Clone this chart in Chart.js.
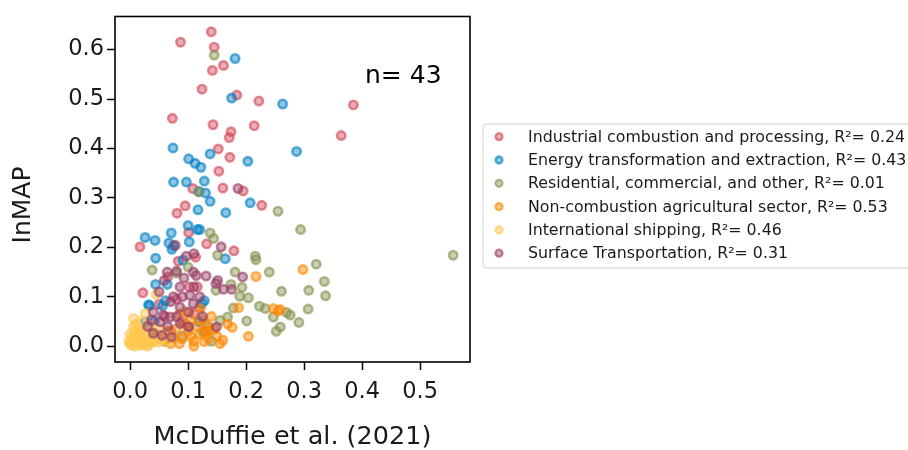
<!DOCTYPE html>
<html lang="en">
<head>
  <meta charset="UTF-8">
  <title>InMAP vs McDuffie et al. (2021)</title>
  <script src="https://cdn.jsdelivr.net/npm/chart.js"></script>
  <style>
    html, body { margin: 0; padding: 0; background: #fff; }
    #chart-container { width: 908px; height: 450px; }
  </style>
</head>
<body>
<div id="chart-container">
  <canvas id="grafico" width="908" height="450"></canvas>
</div>

<script>
  // series: [McDuffie, InMAP]
  const industrial = [
    [0.140,0.636],[0.087,0.615],[0.145,0.605],[0.161,0.568],[0.142,0.558],[0.124,0.520],
    [0.184,0.508],[0.222,0.496],[0.385,0.488],[0.073,0.461],[0.143,0.448],[0.214,0.446],
    [0.174,0.434],[0.171,0.422],[0.364,0.426],[0.152,0.399],[0.172,0.382],[0.153,0.354],
    [0.108,0.319],[0.160,0.320],[0.195,0.314],[0.095,0.284],[0.081,0.269],[0.227,0.285],
    [0.101,0.230],[0.017,0.201],[0.132,0.207],[0.179,0.193],[0.113,0.180],[0.083,0.172],
    [0.022,0.108],[0.102,0.120],[0.116,0.120],[0.060,0.060],[0.090,0.050],[0.120,0.080],
    [0.080,0.095],[0.070,0.030],[0.100,0.040],[0.130,0.030],[0.050,0.085],[0.110,0.065],
    [0.065,0.140]
  ];
  const energy = [
    [0.181,0.582],[0.175,0.502],[0.263,0.490],[0.074,0.401],[0.138,0.389],[0.101,0.379],
    [0.112,0.370],[0.122,0.362],[0.203,0.374],[0.287,0.394],[0.075,0.332],[0.097,0.332],
    [0.128,0.334],[0.119,0.313],[0.130,0.310],[0.138,0.293],[0.117,0.276],[0.207,0.290],
    [0.165,0.270],[0.100,0.244],[0.116,0.236],[0.120,0.236],[0.026,0.220],[0.043,0.214],
    [0.071,0.229],[0.067,0.209],[0.072,0.196],[0.075,0.203],[0.102,0.211],[0.044,0.178],
    [0.091,0.174],[0.164,0.177],[0.044,0.125],[0.064,0.125],[0.032,0.084],[0.061,0.092],
    [0.026,0.049],[0.042,0.051],[0.119,0.049],[0.056,0.082],[0.124,0.087],[0.128,0.092],
    [0.033,0.082]
  ];
  const residential = [
    [0.145,0.589],[0.294,0.236],[0.557,0.184],[0.321,0.166],[0.335,0.131],[0.308,0.113],
    [0.337,0.102],[0.261,0.111],[0.307,0.075],[0.276,0.063],[0.291,0.048],[0.259,0.039],
    [0.255,0.273],[0.138,0.229],[0.144,0.218],[0.151,0.184],[0.216,0.182],[0.217,0.175],
    [0.038,0.154],[0.240,0.150],[0.148,0.113],[0.174,0.125],[0.193,0.119],[0.189,0.101],
    [0.204,0.098],[0.223,0.081],[0.233,0.076],[0.178,0.077],[0.168,0.059],[0.155,0.052],
    [0.201,0.051],[0.247,0.059],[0.252,0.030],[0.270,0.068],[0.126,0.029],[0.118,0.312],
    [0.080,0.148],[0.135,0.040],[0.181,0.150],[0.100,0.160],[0.060,0.010],[0.090,0.020],
    [0.140,0.010]
  ];
  const agriculture = [
    [0.298,0.155],[0.259,0.074],[0.217,0.141],[0.187,0.078],[0.247,0.076],[0.255,0.071],
    [0.121,0.076],[0.124,0.053],[0.137,0.032],[0.132,0.029],[0.176,0.038],[0.204,0.020],
    [0.128,0.009],[0.168,0.045],[0.085,0.065],[0.095,0.070],[0.105,0.055],[0.115,0.040],
    [0.120,0.025],[0.105,0.020],[0.090,0.015],[0.075,0.018],[0.060,0.012],[0.050,0.015],
    [0.040,0.010],[0.030,0.008],[0.065,0.030],[0.080,0.035],[0.100,0.030],[0.110,0.010],
    [0.130,0.045],[0.140,0.060],[0.150,0.020],[0.160,0.012],[0.070,0.005],[0.020,0.005],
    [0.095,0.045],[0.135,0.015],[0.145,0.035],[0.045,0.025],[0.155,0.005],[0.085,0.005],
    [0.110,0.000]
  ];
  const shipping = [
    [0.000,0.005],[0.003,0.012],[0.005,0.020],[0.008,0.030],[0.010,0.008],[0.012,0.015],
    [0.015,0.025],[0.018,0.004],[0.020,0.012],[0.022,0.035],[0.025,0.018],[0.028,0.008],
    [0.030,0.025],[0.032,0.014],[0.035,0.005],[0.038,0.020],[0.040,0.030],[0.042,0.010],
    [0.045,0.018],[0.050,0.008],[0.055,0.015],[0.002,0.002],[0.006,0.040],[0.010,0.045],
    [0.014,0.038],[-0.002,0.010],[0.000,0.025],[0.016,0.002],[0.024,0.002],[0.006,0.056],
    [0.026,0.066],[0.045,0.105],[0.035,0.042],[0.060,0.025],[0.065,0.010],[0.020,0.050],
    [0.050,0.035],[0.008,0.000],[0.030,0.000],[0.070,0.020],[0.004,0.016],[0.012,0.028],
    [0.018,0.020]
  ];
  const transport = [
    [0.186,0.319],[0.078,0.204],[0.097,0.182],[0.064,0.150],[0.080,0.152],[0.109,0.150],
    [0.114,0.143],[0.093,0.138],[0.131,0.142],[0.151,0.133],[0.194,0.140],[0.059,0.133],
    [0.086,0.120],[0.161,0.115],[0.175,0.115],[0.050,0.110],[0.075,0.100],[0.103,0.103],
    [0.086,0.079],[0.109,0.086],[0.101,0.069],[0.040,0.069],[0.057,0.063],[0.069,0.059],
    [0.037,0.053],[0.052,0.049],[0.086,0.046],[0.101,0.039],[0.040,0.026],[0.055,0.022],
    [0.071,0.019],[0.149,0.039],[0.148,0.127],[0.157,0.201],[0.110,0.187],[0.070,0.090],
    [0.120,0.100],[0.090,0.100],[0.065,0.040],[0.125,0.060],[0.110,0.120],[0.080,0.060],
    [0.030,0.040]
  ];

  const sectores = [
    'Industrial combustion and processing, R\u00b2= 0.24',
    'Energy transformation and extraction, R\u00b2= 0.43',
    'Residential, commercial, and other, R\u00b2= 0.01',
    'Non-combustion agricultural sector, R\u00b2= 0.53',
    'International shipping, R\u00b2= 0.46',
    'Surface Transportation, R\u00b2= 0.31'
  ];
  const series = [industrial, energy, residential, agriculture, shipping, transport];
  const colores = ['212,72,88', '0,128,196', '134,146,80', '255,136,0', '255,200,80', '150,62,102'];

  const xTicks = [0.0, 0.1, 0.2, 0.3, 0.4, 0.5];
  const yTicks = [0.0, 0.1, 0.2, 0.3, 0.4, 0.5, 0.6];
  const xTitulo = 'McDuffie et al. (2021)';
  const yTitulo = 'InMAP';
  const nLabel = 'n= 43';

  const FONT = '"DejaVu Sans", sans-serif';

  const datasets = series.map((pts, i) => ({
    label: sectores[i],
    data: pts.map(p => ({ x: p[0], y: p[1] })),
    backgroundColor: `rgba(${colores[i]},0.45)`,
    borderColor: `rgba(${colores[i]},0.62)`,
    borderWidth: 2.6,
    pointRadius: 4.2,
    order: series.length - i
  }));

  const extras = {
    id: 'extras',
    afterDraw(chart) {
      const ctx = chart.ctx;
      const a = chart.chartArea;
      ctx.save();
      // marco
      ctx.strokeStyle = '#000';
      ctx.lineWidth = 1.6;
      ctx.strokeRect(a.left, a.top, a.right - a.left, a.bottom - a.top);

      // titulos
      ctx.fillStyle = '#1a1a1a';
      ctx.textAlign = 'center';
      ctx.textBaseline = 'middle';
      ctx.font = '25.5px ' + FONT;
      ctx.fillText(xTitulo, (a.left + a.right) / 2, 437);
      ctx.save();
      ctx.translate(23, 205);
      ctx.rotate(-Math.PI / 2);
      ctx.font = '25px ' + FONT;
      ctx.fillText(yTitulo, 0, 0);
      ctx.restore();

      // n= 43
      const xs = chart.scales.x, ys = chart.scales.y;
      ctx.fillStyle = '#000';
      ctx.font = '25px ' + FONT;
      ctx.textBaseline = 'alphabetic';
      ctx.textAlign = 'left';
      ctx.fillText(nLabel, xs.getPixelForValue(0.405), ys.getPixelForValue(0.532));

      // leyenda
      const lx = 483, ly = 124, lw = 440, lh = 144;
      ctx.beginPath();
      ctx.roundRect(lx, ly, lw, lh, 4);
      ctx.fillStyle = 'rgba(255,255,255,0.9)';
      ctx.fill();
      ctx.strokeStyle = '#d3d3d3';
      ctx.lineWidth = 1;
      ctx.stroke();
      ctx.font = '15.8px ' + FONT;
      ctx.textBaseline = 'middle';
      sectores.forEach((s, i) => {
        const y = 136.7 + i * 23.3;
        ctx.beginPath();
        ctx.arc(499, y, 3.5, 0, Math.PI * 2);
        ctx.fillStyle = `rgba(${colores[i]},0.45)`;
        ctx.fill();
        ctx.strokeStyle = `rgba(${colores[i]},0.62)`;
        ctx.lineWidth = 2.3;
        ctx.stroke();
        ctx.fillStyle = '#1a1a1a';
        ctx.fillText(s, 528, y + 1);
      });
      ctx.restore();
    }
  };

  new Chart(document.getElementById('grafico'), {
    type: 'scatter',
    data: { datasets },
    options: {
      responsive: false,
      animation: false,
      layout: { padding: { left: 0, top: 16, right: 438, bottom: 0 } },
      plugins: { legend: { display: false }, tooltip: { enabled: false } },
      scales: {
        x: {
          type: 'linear',
          min: -0.026,
          max: 0.586,
          afterBuildTicks: s => { s.ticks = xTicks.map(v => ({ value: v })); },
          afterFit: s => { s.height = 88; },
          grid: { display: true, drawOnChartArea: false, drawTicks: true, tickLength: 8, tickWidth: 1.5, tickColor: '#000' },
          border: { display: false },
          ticks: {
            color: '#1a1a1a',
            font: { family: FONT, size: 22.5 },
            padding: 9,
            maxRotation: 0,
            callback: v => v.toFixed(1)
          }
        },
        y: {
          type: 'linear',
          min: -0.032,
          max: 0.667,
          afterBuildTicks: s => { s.ticks = yTicks.map(v => ({ value: v })); },
          afterFit: s => { s.width = 115; },
          grid: { display: true, drawOnChartArea: false, drawTicks: true, tickLength: 8, tickWidth: 1.5, tickColor: '#000' },
          border: { display: false },
          ticks: {
            color: '#1a1a1a',
            font: { family: FONT, size: 22.5 },
            padding: 3,
            callback: v => v.toFixed(1)
          }
        }
      }
    },
    plugins: [extras]
  });
</script>
</body>
</html>
